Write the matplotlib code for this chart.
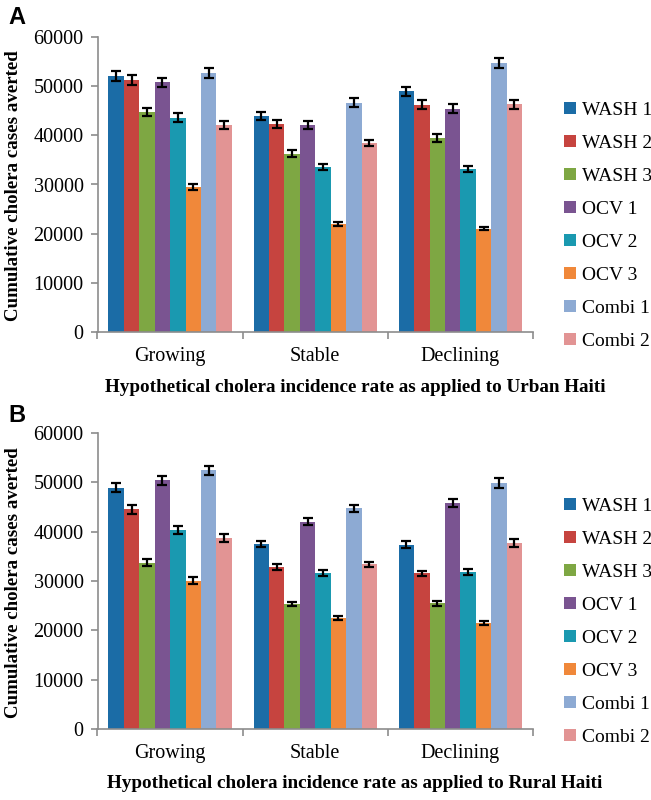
import matplotlib
matplotlib.use("Agg")
import matplotlib.pyplot as plt
import numpy as np

categories = ["Growing", "Stable", "Declining"]
series = ["WASH 1", "WASH 2", "WASH 3", "OCV 1", "OCV 2", "OCV 3", "Combi 1", "Combi 2"]
colors = ["#1B6CA6", "#C6443F", "#7EA743", "#7A5491", "#1A99B0", "#F0883A", "#8DAAD3", "#E29494"]

# Panel A (Urban Haiti): rows = categories, columns = series
urban_vals = [
    [52100, 51200, 44700, 50750, 43600, 29500, 52650, 42100],
    [44000, 42250, 36300, 42100, 33550, 22000, 46650, 38450],
    [48950, 46250, 39400, 45450, 33200, 21050, 54650, 46300],
]
urban_err = [
    [1000, 1000, 850, 950, 850, 600, 1000, 800],
    [800, 800, 700, 750, 550, 400, 850, 650],
    [950, 900, 800, 850, 600, 400, 1000, 850],
]
# Panel B (Rural Haiti)
rural_vals = [
    [48900, 44500, 33700, 50400, 40250, 30100, 52400, 38800],
    [37500, 32800, 25300, 42050, 31600, 22450, 44750, 33400],
    [37350, 31550, 25450, 45800, 31850, 21500, 49900, 37700],
]
rural_err = [
    [950, 900, 750, 950, 800, 650, 1000, 800],
    [700, 550, 400, 700, 550, 400, 750, 550],
    [700, 550, 500, 850, 600, 400, 950, 800],
]

panel_letters = ["A", "B"]
xlabels = ["Hypothetical cholera incidence rate as applied to Urban Haiti",
           "Hypothetical cholera incidence rate as applied to Rural Haiti"]
ylabel = "Cumulative cholera cases averted"
yticks = [0, 10000, 20000, 30000, 40000, 50000, 60000]

W, H = 651, 800
fig = plt.figure(figsize=(W / 100, H / 100), dpi=100)

serif = ["Liberation Serif", "DejaVu Serif"]
spine_col = "#8C8C8C"

axes_px = [(97.5, 37, 533, 332), (97.5, 433, 533, 729)]
legend_center_y = [226, 622]
letter_y = [18, 416]

def draw(ax, vals, errs, xlabel, l, t, r, b):
    vals = np.array(vals)
    errs = np.array(errs)
    n = len(series)
    group_w = 0.85
    bw = group_w / n
    x = np.arange(len(categories))
    handles = []
    for i in range(n):
        pos = x - group_w / 2 + bw * (i + 0.5)
        bars = ax.bar(pos, vals[:, i], width=bw, color=colors[i], edgecolor="none",
                      label=series[i], zorder=2)
        ax.errorbar(pos, vals[:, i], yerr=errs[:, i], fmt="none", ecolor="black",
                    elinewidth=1.6, capsize=3.5, capthick=1.6, zorder=3)
        handles.append(bars)
    ax.set_xlim(-0.5, len(categories) - 0.5)
    ax.set_ylim(0, 60000)
    ax.set_yticks(yticks)
    ax.set_yticklabels([str(v) for v in yticks], fontfamily=serif, fontsize=14.5)
    ax.set_xticks(x)
    ax.set_xticklabels(categories, fontfamily=serif, fontsize=14.5)
    ax.set_xticks(np.arange(len(categories) + 1) - 0.5, minor=True)
    ax.tick_params(axis="x", which="major", length=0, pad=11)
    ax.tick_params(axis="x", which="minor", length=5, width=1.2, color=spine_col, direction="out")
    ax.tick_params(axis="y", length=5, width=1.2, color=spine_col, direction="out", pad=5)
    for s in ["top", "right"]:
        ax.spines[s].set_visible(False)
    for s in ["left", "bottom"]:
        ax.spines[s].set_color(spine_col)
        ax.spines[s].set_linewidth(1.2)
    wpx, hpx = r - l, b - t
    ax.set_xlabel(xlabel, fontfamily=serif, fontsize=13.8, fontweight="bold",
                  va="center", ha="center")
    ax.xaxis.set_label_coords((355 - l) / wpx, -55 / hpx)
    ax.set_ylabel(ylabel, fontfamily=serif, fontsize=13.6, fontweight="bold",
                  va="center", ha="center")
    ax.yaxis.set_label_coords((14 - l) / wpx, 0.5 - 1.5 / hpx)
    return handles

data = [(urban_vals, urban_err), (rural_vals, rural_err)]
for k in range(2):
    l, t, r, b = axes_px[k]
    ax = fig.add_axes([l / W, 1 - b / H, (r - l) / W, (b - t) / H])
    handles = draw(ax, data[k][0], data[k][1], xlabels[k], l, t, r, b)
    fig.legend(handles, series, loc="center left",
               bbox_to_anchor=(564 / W, 1 - legend_center_y[k] / H),
               frameon=False, prop={"family": serif, "size": 14},
               handlelength=0.6, handleheight=0.6, handletextpad=0.3,
               labelspacing=0.82, borderaxespad=0, borderpad=0)
    fig.text(8 / W, 1 - letter_y[k] / H, panel_letters[k], fontsize=17,
             fontweight="bold", fontfamily=["Liberation Sans", "DejaVu Sans"],
             va="center", ha="left")

fig.savefig("out.png", dpi=100, facecolor="white")
